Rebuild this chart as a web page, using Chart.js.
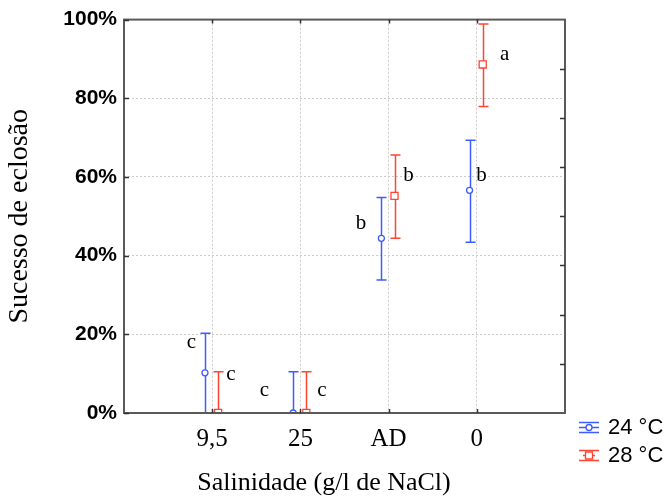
<!DOCTYPE html>
<html><head><meta charset="utf-8">
<script src="https://cdn.jsdelivr.net/npm/chart.js@4/dist/chart.umd.min.js"></script>
<style>html,body{margin:0;padding:0;background:#fff;} #wrap{width:666px;height:496px;position:relative;}</style>
</head><body><div id="wrap"><canvas id="c" width="666" height="496"></canvas></div>
<script>
// ---- data ----
const categories = ['9,5', '25', 'AD', '0'];
const seriesLabels = ['24 °C', '28 °C'];
const mean24 = [10.2, 0, 44.4, 56.6];
const low24  = [0, 0, 33.8, 43.4];
const high24 = [20.3, 10.5, 54.8, 69.3];
const mean28 = [0, 0, 55.2, 88.6];
const low28  = [0, 0, 44.4, 77.9];
const high28 = [10.5, 10.5, 65.6, 98.9];
const letters24 = ['c', 'c', 'b', 'b'];
const letters28 = ['c', 'c', 'b', 'a'];
const yTickValues = [0, 20, 40, 60, 80, 100];
const rightTickValues = [12.5, 25, 37.5, 50, 62.5, 75, 87.5];
const xTitle = 'Salinidade (g/l de NaCl)';
const yTitle = 'Sucesso de eclosão';

// ---- style ----
const BLUE = '#3c5cff', RED = '#ff4530';
const DODGE = [-0.082, 0.067];
// letter label offsets (px) relative to each point: [dx, dyBaseline]
const letterOff = [
  [[-13.6, -24.4], [-28.7, -16.7], [-20.3, -9.4], [12, -9.7]],
  [[12.7, -32.7], [15.7, -16.7], [14, -15.3], [22, -4.7]]
];

function build(means, lows, highs, letters, k) {
  return means.map((m, i) => ({x: i + 1 + DODGE[k], y: m, yMin: lows[i], yMax: highs[i], letter: letters[i]}));
}

const gridColor = '#cbcbcb';

const extras = {
  id: 'extras',
  beforeDatasetsDraw(chart) {
    const {ctx, chartArea: a, scales: {x, y}} = chart;
    ctx.save();
    ctx.beginPath(); ctx.rect(a.left, a.top, a.right - a.left, a.bottom - a.top); ctx.clip();
    chart.data.datasets.forEach(ds => {
      ctx.strokeStyle = ds.pointBorderColor; ctx.lineWidth = 1.5;
      ds.data.forEach(p => {
        const px = Math.round(x.getPixelForValue(p.x)) + 0.5;
        const y1 = y.getPixelForValue(p.yMax), y0 = y.getPixelForValue(p.yMin);
        ctx.beginPath();
        ctx.moveTo(px, y0); ctx.lineTo(px, y1);
        ctx.moveTo(px - 5, y1); ctx.lineTo(px + 5, y1);
        ctx.moveTo(px - 5, y0); ctx.lineTo(px + 5, y0);
        ctx.stroke();
      });
    });
    ctx.restore();
  },
  afterDraw(chart) {
    const {ctx, chartArea: a, scales: {x, y}} = chart;
    ctx.save();
    // frame
    ctx.strokeStyle = '#5a5a5a'; ctx.lineWidth = 2;
    ctx.strokeRect(a.left, a.top, a.right - a.left, a.bottom - a.top);
    // inward ticks
    ctx.strokeStyle = '#333'; ctx.lineWidth = 1.5;
    ctx.beginPath();
    yTickValues.forEach(v => { const py = Math.round(y.getPixelForValue(v)) + 0.5; ctx.moveTo(a.left, py); ctx.lineTo(a.left + 5, py); });
    rightTickValues.forEach(v => { const py = Math.round(y.getPixelForValue(v)) + 0.5; ctx.moveTo(a.right - 5, py); ctx.lineTo(a.right, py); });
    categories.forEach((c, i) => {
      const px = Math.round(x.getPixelForValue(i + 1)) + 0.5;
      ctx.moveTo(px, a.top); ctx.lineTo(px, a.top + 4);
      ctx.moveTo(px, a.bottom - 4); ctx.lineTo(px, a.bottom);
    });
    ctx.stroke();
    // letters
    ctx.fillStyle = '#000'; ctx.font = '21px "Liberation Serif"';
    ctx.textAlign = 'center'; ctx.textBaseline = 'alphabetic';
    chart.data.datasets.forEach((ds, k) => {
      ds.data.forEach((p, i) => {
        const px = x.getPixelForValue(p.x), py = y.getPixelForValue(p.y);
        ctx.fillText(p.letter, px + letterOff[k][i][0], py + letterOff[k][i][1]);
      });
    });
    // x title
    ctx.font = '26px "Liberation Serif"';
    ctx.fillText(xTitle, 324, 490);
    // legend
    const rows = [427, 455];
    chart.data.datasets.forEach((ds, k) => {
      const cy = rows[k], x0 = 579, x1 = 599, cx = 589, h = 5;
      ctx.strokeStyle = ds.pointBorderColor; ctx.lineWidth = 1.3;
      ctx.beginPath();
      ctx.moveTo(x0, cy - h + 0.5); ctx.lineTo(x1, cy - h + 0.5);
      ctx.moveTo(x0, cy + h + 0.5); ctx.lineTo(x1, cy + h + 0.5);
      ctx.moveTo(x0 + (k ? 4 : 0), cy + 0.5); ctx.lineTo(x1 - (k ? 4 : 0), cy + 0.5);
      ctx.stroke();
      ctx.fillStyle = '#fff';
      ctx.beginPath();
      if (k === 0) { ctx.arc(cx, cy + 0.5, 3, 0, Math.PI * 2); }
      else { ctx.rect(cx - 3.5, cy - 3, 7, 7); }
      ctx.fill(); ctx.stroke();
      ctx.fillStyle = '#000'; ctx.font = '22px "Liberation Sans"';
      ctx.textAlign = 'left'; ctx.textBaseline = 'middle';
      ctx.fillText(ds.label, 608, cy + 1);
    });
    ctx.restore();
  }
};

new Chart(document.getElementById('c'), {
  type: 'scatter',
  data: {
    datasets: [
      {label: seriesLabels[0], data: build(mean24, low24, high24, letters24, 0),
       pointStyle: 'circle', pointRadius: 3, pointBackgroundColor: '#fff', pointBorderColor: BLUE,
       pointBorderWidth: 1.3, clip: 0, showLine: false},
      {label: seriesLabels[1], data: build(mean28, low28, high28, letters28, 1),
       pointStyle: 'rect', pointRadius: 5, pointBackgroundColor: '#fff', pointBorderColor: RED,
       pointBorderWidth: 1.3, clip: 0, showLine: false}
    ]
  },
  options: {
    responsive: false, animation: false, devicePixelRatio: 1,
    layout: {padding: {left: 0, top: 19, right: 101, bottom: 0}},
    plugins: {legend: {display: false}, tooltip: {enabled: false}},
    scales: {
      x: {
        type: 'linear', min: 0, max: 5,
        afterBuildTicks: s => { s.ticks = [0, 1, 2, 3, 4, 5].map(v => ({value: v})); },
        afterFit: s => { s.height = 83; },
        ticks: {
          callback: v => categories[v - 1] ?? '',
          font: {family: '"Liberation Serif"', size: 25}, color: '#000',
          padding: 11, maxRotation: 0, autoSkip: false
        },
        grid: {drawTicks: false, lineWidth: 1,
          color: c => (c.tick && c.tick.value >= 1 && c.tick.value <= 4) ? gridColor : 'rgba(0,0,0,0)'},
        border: {display: false, dash: [2, 2]}
      },
      y: {
        min: 0, max: 100,
        afterBuildTicks: s => { s.ticks = yTickValues.map(v => ({value: v})); },
        afterFit: s => { s.width = 124; },
        ticks: {callback: v => v + '%', font: {family: '"Liberation Sans"', size: 21, weight: 'bold'}, color: '#000', padding: 7},
        grid: {drawTicks: false, lineWidth: 1,
          color: c => (c.tick && c.tick.value > 0 && c.tick.value < 100) ? gridColor : 'rgba(0,0,0,0)'},
        border: {display: false, dash: [2, 2]},
        title: {display: true, text: yTitle, font: {family: '"Liberation Serif"', size: 28}, color: '#000', padding: {top: 3, bottom: 0}}
      }
    }
  },
  plugins: [extras]
});
</script></body></html>
